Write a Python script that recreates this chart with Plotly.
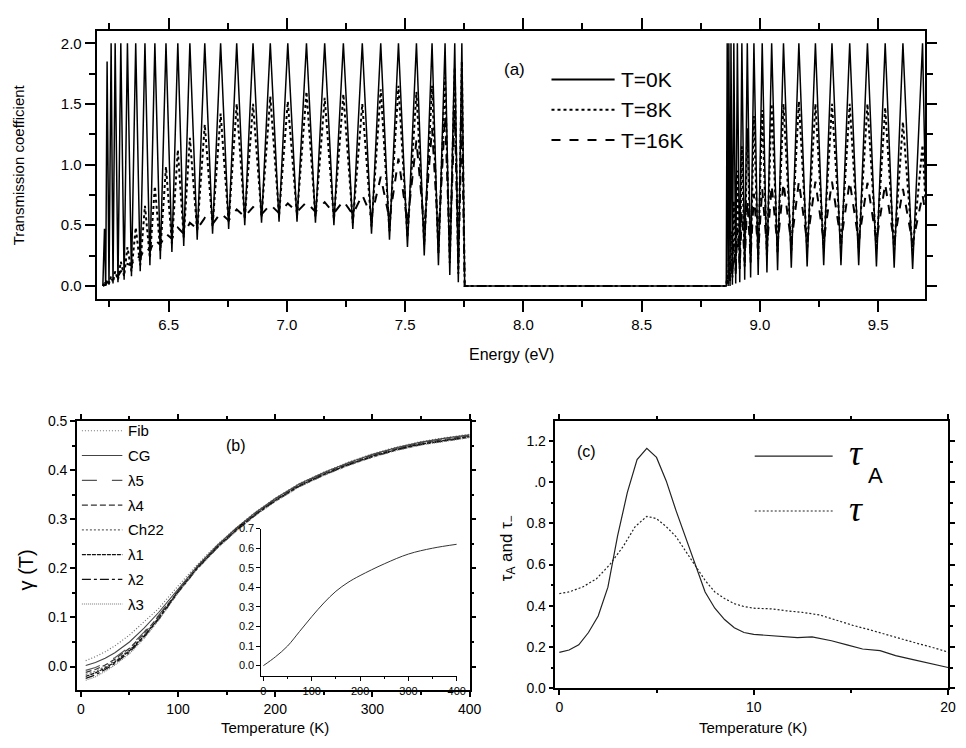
import plotly.graph_objects as go

W, H = 966, 748
FONT = "Liberation Sans, Arial, sans-serif"

# ---------------- panel (a): transmission coefficient vs energy ----------------
# lower band: resonance energies (peaks) and the energies of the minima between them
left_peak_E = [6.229, 6.240, 6.257, 6.274, 6.298, 6.326, 6.361, 6.400, 6.442, 6.489,
               6.539, 6.590, 6.653, 6.720, 6.788, 6.857, 6.930, 7.004, 7.083, 7.160,
               7.239, 7.319, 7.397, 7.472, 7.548, 7.614, 7.669, 7.710, 7.740]
left_valley_E = [6.222, 6.234, 6.248, 6.265, 6.286, 6.312, 6.343, 6.380, 6.421, 6.465,
                 6.514, 6.564, 6.621, 6.686, 6.754, 6.822, 6.893, 6.967, 7.043, 7.121,
                 7.199, 7.279, 7.358, 7.434, 7.510, 7.581, 7.641, 7.689, 7.725, 7.752]

left_T0_peak = [0.47, 1.85, 2.0, 2.0, 2.0, 2.0, 2.0, 2.0, 2.0, 2.0,
                2.0, 2.0, 2.0, 2.0, 2.0, 2.0, 2.0, 2.0, 2.0, 2.0,
                2.0, 2.0, 2.0, 2.0, 2.0, 2.0, 2.0, 2.0, 2.0]
left_T0_valley = [0.0, 0.0, 0.01, 0.02, 0.03, 0.05, 0.08, 0.12, 0.17, 0.22,
                  0.28, 0.33, 0.38, 0.43, 0.47, 0.50, 0.52, 0.53, 0.53, 0.52,
                  0.50, 0.47, 0.43, 0.38, 0.32, 0.25, 0.17, 0.09, 0.03, 0.0]

left_T8_peak = [0.02, 0.05, 0.08, 0.12, 0.20, 0.32, 0.48, 0.66, 0.82, 0.98,
                1.12, 1.22, 1.33, 1.42, 1.50, 1.50, 1.56, 1.52, 1.60, 1.55,
                1.58, 1.50, 1.62, 1.65, 1.60, 1.65, 1.72, 1.80, 1.85]
left_T8_valley = [0.0, 0.01, 0.02, 0.03, 0.05, 0.08, 0.12, 0.17, 0.23, 0.29,
                  0.35, 0.40, 0.45, 0.49, 0.52, 0.55, 0.57, 0.58, 0.58, 0.57,
                  0.55, 0.52, 0.49, 0.45, 0.40, 0.34, 0.27, 0.19, 0.10, 0.0]

left_T16_peak = [0.01, 0.03, 0.05, 0.08, 0.12, 0.18, 0.25, 0.32, 0.38, 0.43,
                 0.48, 0.52, 0.56, 0.60, 0.63, 0.65, 0.67, 0.68, 0.69, 0.69,
                 0.70, 0.75, 0.90, 1.05, 1.20, 1.30, 1.40, 1.45, 1.40]
left_T16_valley = [0.0, 0.01, 0.03, 0.05, 0.08, 0.12, 0.17, 0.23, 0.29, 0.34,
                   0.39, 0.43, 0.47, 0.51, 0.54, 0.57, 0.59, 0.60, 0.61, 0.61,
                   0.60, 0.59, 0.57, 0.55, 0.52, 0.47, 0.40, 0.30, 0.18, 0.0]

# upper band
right_peak_E = [8.862, 8.869, 8.878, 8.890, 8.905, 8.924, 8.947, 8.975, 9.010, 9.050,
                9.100, 9.165, 9.235, 9.305, 9.380, 9.455, 9.530, 9.605, 9.688]
right_valley_E = [8.858, 8.866, 8.874, 8.884, 8.898, 8.915, 8.936, 8.961, 8.993, 9.030,
                  9.075, 9.133, 9.200, 9.270, 9.343, 9.418, 9.493, 9.568, 9.646, 9.700]

right_T0_peak = [2.0, 2.0, 2.0, 2.0, 2.0, 2.0, 2.0, 2.0, 2.0, 2.0,
                 2.0, 2.0, 2.0, 2.0, 2.0, 2.0, 2.0, 2.0, 2.0]
right_T0_valley = [0.0, 0.0, 0.0, 0.01, 0.02, 0.03, 0.05, 0.07, 0.09, 0.11,
                   0.13, 0.15, 0.16, 0.17, 0.17, 0.17, 0.16, 0.15, 0.14, 0.80]

right_T8_peak = [0.10, 0.25, 0.45, 0.70, 0.95, 1.15, 1.30, 1.40, 1.45, 1.50,
                 1.50, 1.52, 1.50, 1.50, 1.50, 1.50, 1.47, 1.35, 1.16]
right_T8_valley = [0.0, 0.02, 0.04, 0.07, 0.10, 0.13, 0.16, 0.19, 0.22, 0.25,
                   0.27, 0.29, 0.30, 0.31, 0.31, 0.31, 0.30, 0.30, 0.29, 0.70]

right_T16_peak = [0.05, 0.12, 0.22, 0.35, 0.48, 0.60, 0.70, 0.76, 0.80, 0.83,
                  0.85, 0.86, 0.86, 0.86, 0.86, 0.85, 0.84, 0.80, 0.75]
right_T16_valley = [0.0, 0.02, 0.05, 0.08, 0.12, 0.16, 0.20, 0.24, 0.28, 0.31,
                    0.33, 0.35, 0.36, 0.37, 0.37, 0.37, 0.37, 0.36, 0.35, 0.60]

# ---------------- panel (b): gamma(T) for the different sequences ----------------
temp_b = [5, 15, 25, 35, 50, 65, 80, 100, 120, 140, 160, 180, 200, 225, 250, 275,
          300, 325, 350, 375, 400]
gamma_series = {
    "Fib":  [0.012, 0.020, 0.030, 0.042, 0.064, 0.090, 0.118, 0.164, 0.208, 0.248, 0.283,
             0.315, 0.343, 0.373, 0.396, 0.416, 0.433, 0.447, 0.458, 0.466, 0.473],
    "CG":   [0.002, 0.008, 0.017, 0.028, 0.050, 0.078, 0.110, 0.158, 0.205, 0.246, 0.282,
             0.314, 0.342, 0.372, 0.395, 0.415, 0.432, 0.446, 0.457, 0.465, 0.472],
    "λ5":   [-0.008, -0.002, 0.007, 0.018, 0.040, 0.070, 0.104, 0.155, 0.203, 0.245, 0.281,
             0.313, 0.341, 0.371, 0.394, 0.414, 0.431, 0.445, 0.456, 0.464, 0.471],
    "λ4":   [-0.012, -0.006, 0.003, 0.015, 0.037, 0.067, 0.102, 0.154, 0.202, 0.244, 0.280,
             0.312, 0.340, 0.370, 0.393, 0.413, 0.430, 0.444, 0.455, 0.463, 0.470],
    "Ch22": [-0.016, -0.010, 0.000, 0.012, 0.034, 0.064, 0.100, 0.153, 0.202, 0.243, 0.279,
             0.311, 0.339, 0.369, 0.392, 0.412, 0.429, 0.443, 0.454, 0.462, 0.469],
    "λ1":   [-0.020, -0.013, -0.003, 0.009, 0.032, 0.062, 0.098, 0.152, 0.201, 0.242, 0.278,
             0.310, 0.338, 0.368, 0.391, 0.411, 0.428, 0.442, 0.453, 0.461, 0.468],
    "λ2":   [-0.024, -0.017, -0.006, 0.006, 0.029, 0.060, 0.096, 0.151, 0.200, 0.241, 0.277,
             0.309, 0.337, 0.367, 0.390, 0.410, 0.427, 0.441, 0.452, 0.460, 0.467],
    "λ3":   [-0.028, -0.021, -0.010, 0.003, 0.026, 0.057, 0.094, 0.150, 0.199, 0.240, 0.276,
             0.308, 0.336, 0.366, 0.389, 0.409, 0.426, 0.440, 0.451, 0.459, 0.466],
}
gamma_styles = {
    "Fib":  dict(color="#707070", dash="1px,2px", width=1.2),
    "CG":   dict(color="#444444", dash="solid", width=1.1),
    "λ5":   dict(color="#555555", dash="longdash", width=1.2),
    "λ4":   dict(color="#333333", dash="6px,3px", width=1.2),
    "Ch22": dict(color="#666666", dash="2px,2px", width=1.2),
    "λ1":   dict(color="#111111", dash="4px,1px", width=1.3),
    "λ2":   dict(color="#111111", dash="dashdot", width=1.3),
    "λ3":   dict(color="#777777", dash="1px,1px", width=1.1),
}

# inset of panel (b)
temp_inset = [0, 25, 50, 75, 100, 125, 150, 175, 200, 250, 300, 350, 400]
gamma_inset = [0.0, 0.045, 0.10, 0.175, 0.25, 0.32, 0.38, 0.425, 0.46, 0.52, 0.57, 0.60, 0.62]

# ---------------- panel (c): tau_A and tau ----------------
temp_tauA = [0, 0.5, 1.0, 1.5, 2.0, 2.5, 3.0, 3.5, 4.0, 4.5, 5.0, 5.5, 6.0, 6.5, 7.0, 7.5,
             8.0, 8.5, 9.0, 9.5, 10.0, 10.5, 11.5, 12.25, 13.0, 14.0, 14.8, 15.6, 16.5,
             17.3, 18.2, 19.0, 20.0]
tauA = [0.174, 0.185, 0.21, 0.27, 0.35, 0.49, 0.74, 0.95, 1.11, 1.164, 1.12, 1.006, 0.863,
        0.728, 0.594, 0.467, 0.388, 0.333, 0.293, 0.27, 0.261, 0.258, 0.253, 0.245, 0.249,
        0.23, 0.21, 0.19, 0.182, 0.158, 0.138, 0.122, 0.10]
temp_tau = [0, 0.5, 1.2, 1.9, 2.6, 3.3, 3.9, 4.5, 5.0, 5.5, 6.0, 6.5, 7.0, 7.5, 8.0, 8.5,
            9.0, 9.5, 10.0, 10.9, 11.7, 12.5, 13.4, 14.2, 15.1, 15.9, 16.8, 17.6, 18.5,
            19.3, 20.0]
tau = [0.459, 0.467, 0.491, 0.53, 0.60, 0.69, 0.784, 0.834, 0.823, 0.784, 0.736, 0.665,
       0.594, 0.523, 0.467, 0.435, 0.41, 0.396, 0.388, 0.385, 0.375, 0.368, 0.355, 0.33,
       0.305, 0.285, 0.26, 0.24, 0.215, 0.195, 0.175]


def band_path(valley_E, peak_E, valley_T, peak_T):
    xs, ys = [], []
    for ve, pe, vt, pt in zip(valley_E, peak_E, valley_T, peak_T):
        xs += [ve, pe]
        ys += [vt, pt]
    xs.append(valley_E[-1])
    ys.append(valley_T[-1])
    return xs, ys


def px(x):
    return x / W


def py(y):
    return 1 - y / H


fig = go.Figure()

spectra = [
    ("T=0K", left_T0_valley, left_T0_peak, right_T0_valley, right_T0_peak, "solid", 1.5),
    ("T=8K", left_T8_valley, left_T8_peak, right_T8_valley, right_T8_peak, "dot", 2.0),
    ("T=16K", left_T16_valley, left_T16_peak, right_T16_valley, right_T16_peak, "dash", 2.0),
]
for name, lv, lp, rv, rp, dash, width in spectra:
    x1, y1 = band_path(left_valley_E, left_peak_E, lv, lp)
    x2, y2 = band_path(right_valley_E, right_peak_E, rv, rp)
    fig.add_trace(go.Scatter(x=x1 + x2, y=y1 + y2, mode="lines", name=name,
                             line=dict(color="black", dash=dash, width=width),
                             xaxis="x", yaxis="y", showlegend=False))

for name, vals in gamma_series.items():
    fig.add_trace(go.Scatter(x=temp_b, y=vals, mode="lines", name=name,
                             line=gamma_styles[name], xaxis="x2", yaxis="y2",
                             showlegend=False))

fig.add_trace(go.Scatter(x=temp_inset, y=gamma_inset, mode="lines", line_shape="spline",
                         line=dict(color="#333333", width=1), xaxis="x3", yaxis="y3",
                         showlegend=False))

fig.add_trace(go.Scatter(x=temp_tauA, y=tauA, mode="lines", name="tau_A",
                         line=dict(color="#222222", width=1.2), xaxis="x4", yaxis="y4",
                         showlegend=False))
fig.add_trace(go.Scatter(x=temp_tau, y=tau, mode="lines", name="tau",
                         line=dict(color="#222222", width=1.2, dash="2px,2px"),
                         xaxis="x4", yaxis="y4", showlegend=False))


def axis(lw=1.5, size=14, ticklen=5, minor_len=3, minor_dtick=None, **kw):
    d = dict(showline=True, linecolor="black", linewidth=lw, mirror="ticks",
             ticks="outside", ticklen=ticklen, tickwidth=lw, tickcolor="black",
             showgrid=False, zeroline=False,
             tickfont=dict(family=FONT, size=size, color="black"))
    if minor_dtick is not None:
        d["minor"] = dict(dtick=minor_dtick, ticks="outside", ticklen=minor_len,
                          tickwidth=lw, tickcolor="black", showgrid=False)
    d.update(kw)
    return d


layout = dict(
    width=W, height=H, margin=dict(l=0, r=0, t=0, b=0),
    paper_bgcolor="white", plot_bgcolor="rgba(0,0,0,0)",
    font=dict(family=FONT, color="black"),
    xaxis=axis(lw=2, size=15, ticklen=11, minor_len=6, minor_dtick=0.25,
               domain=[px(97), px(937)], range=[6.196, 9.70], dtick=0.5, tick0=0,
               tickformat=".1f", anchor="y"),
    yaxis=axis(lw=2, size=15, ticklen=10, minor_len=6, minor_dtick=0.25,
               domain=[py(297), py(24)], range=[-0.105, 2.097], dtick=0.5, tick0=0,
               tickformat=".1f", anchor="x"),
    xaxis2=axis(size=14, minor_dtick=50, domain=[px(77), px(475)], range=[-4, 400],
                dtick=100, tick0=0, anchor="y2"),
    yaxis2=axis(size=14, minor_dtick=0.05, domain=[py(697), py(422)], range=[-0.048, 0.5],
                dtick=0.1, tick0=0, tickformat=".1f", anchor="x2"),
    xaxis3=axis(lw=1, size=11, ticklen=4, minor_len=2, minor_dtick=50,
                domain=[px(264), px(462)], range=[-4, 400], dtick=100, tick0=0,
                anchor="y3", mirror=False),
    yaxis3=axis(lw=1, size=11, ticklen=4, domain=[py(683), py(532)], range=[-0.055, 0.7],
                dtick=0.1, tick0=0, tickformat=".1f", anchor="x3", mirror=False),
    xaxis4=axis(size=14, minor_dtick=5, domain=[px(562), px(960)], range=[-0.2, 20],
                dtick=10, tick0=0, anchor="y4"),
    yaxis4=axis(size=14, minor_dtick=0.1, domain=[py(695), py(422)], range=[0, 1.297],
                tickvals=[0, 0.2, 0.4, 0.6, 0.8, 1.0, 1.2],
                ticktext=["0.0", "0.2", "0.4", "0.6", "0.8", ".0", "1.2"], anchor="x4"),
)
fig.update_layout(**layout)

ann = []
shapes = []


def text(x, y, s, size, xanchor="center", angle=0, family=FONT):
    ann.append(dict(x=px(x), y=py(y), xref="paper", yref="paper", text=s, showarrow=False,
                    xanchor=xanchor, yanchor="middle", textangle=angle,
                    font=dict(family=family, size=size, color="black")))


def key_line(x0, x1, y, dash, width, color="black"):
    shapes.append(dict(type="line", xref="paper", yref="paper", x0=px(x0), x1=px(x1),
                       y0=py(y), y1=py(y), line=dict(color=color, dash=dash, width=width)))


# axis titles
text(18, 160, "Transmission coefficient", 15, angle=-90)
text(517, 354, "Energy (eV)", 16)
text(25, 574, "γ (T)", 20, angle=-90)
text(278, 735, "Temperature (K)", 15)
text(514, 552, "τ<sub>A</sub> and τ<sub>−</sub>", 17, angle=-90)
text(762, 735, "Temperature (K)", 15)

# panel (a) key
text(520, 63, "(a)", 17)
for i, (label, dash) in enumerate([("T=0K", "solid"), ("T=8K", "dot"), ("T=16K", "dash")]):
    yy = 73 + 31 * i
    key_line(558, 622, yy, dash, 2)
    text(626, yy, label, 21, xanchor="left")

# panel (b) key
text(238, 447, "(b)", 16)
for i, name in enumerate(gamma_series):
    yy = 432 + 25.3 * i
    st = gamma_styles[name]
    key_line(82, 123, yy, st["dash"], st["width"], st["color"])
    text(127, yy, name, 15, xanchor="left")

# panel (c) key
text(593, 453, "(c)", 16)
key_line(764, 843, 458, "solid", 1.2, "#222222")
key_line(764, 843, 514, "2px,2px", 1.2, "#222222")
text(858, 455, "<i>τ</i>", 36, xanchor="left", family="Liberation Serif, serif")
text(877, 478, "A", 22, xanchor="left")
text(858, 512, "<i>τ</i>", 36, xanchor="left", family="Liberation Serif, serif")

fig.update_layout(annotations=ann, shapes=shapes)
fig.write_html("out.html")
